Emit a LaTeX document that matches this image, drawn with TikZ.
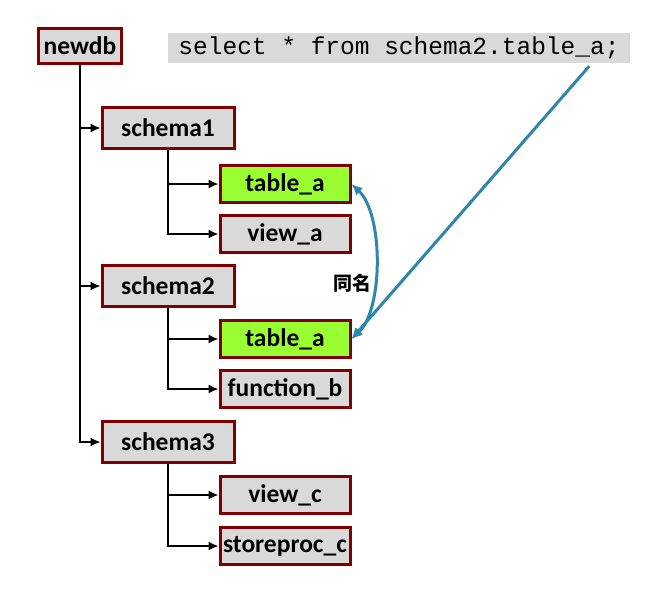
\documentclass[tikz,border=0pt]{standalone}
\usepackage{fontspec}
\setmainfont{Carlito}
\newfontfamily\codefont{Liberation Mono}
\newfontfamily\cjk{Noto Sans CJK SC}
\usepackage{xcolor}
\usepackage{tikz}
\usetikzlibrary{positioning,arrows.meta}
\definecolor{boxred}{HTML}{7F0000}
\definecolor{boxgray}{HTML}{D9D9D9}
\definecolor{leafgreen}{HTML}{99FF33}
\definecolor{linkblue}{HTML}{2E86AB}

\begin{document}
\begin{tikzpicture}[x=1pt, y=-1pt,
    box/.style={draw=boxred, line width=3pt, fill=boxgray, inner sep=0pt,
        font=\fontsize{25.5}{30}\selectfont\bfseries},
    dbbox/.style={box, minimum width=83pt, minimum height=35pt},
    schemabox/.style={box, minimum width=132pt, minimum height=41pt},
    leafbox/.style={box, minimum width=130pt, minimum height=37pt},
    hitbox/.style={leafbox, fill=leafgreen},
    conn/.style={-{Latex[length=10pt,width=9pt]}, line width=1.6pt},
    link/.style={draw=linkblue, line width=3pt}]
    \useasboundingbox (0,0) rectangle (656,602);

    \node[dbbox] (newdb) at (80,46) {newdb};
    \node[fill=boxgray, minimum width=462pt, minimum height=30pt, inner sep=0pt,
        font=\codefont\fontsize{24.5}{26}\selectfont] (sql) at (399,48)
        {select * from schema2.table\_a;};

    \node[schemabox] (s1) at (168,128) {schema1};
    \node[hitbox] (ta1) at (285,184) {table\_a};
    \node[leafbox] (va) at (285,234) {view\_a};

    \node[schemabox] (s2) at (168,286) {schema2};
    \node[hitbox] (ta2) at (285,339) {table\_a};
    \node[leafbox] (fb) at (285,389) {function\_b};

    \node[schemabox] (s3) at (168,442) {schema3};
    \node[leafbox] (vc) at (285,495) {view\_c};
    \node[leafbox] (sc) at (285,546) {storeproc\_c};

    \draw[conn] (newdb.south) |- (s1.west);
    \draw[conn] (newdb.south) |- (s2.west);
    \draw[conn] (newdb.south) |- (s3.west);
    \draw[conn] (s1.south) |- (ta1.west);
    \draw[conn] (s1.south) |- (va.west);
    \draw[conn] (s2.south) |- (ta2.west);
    \draw[conn] (s2.south) |- (fb.west);
    \draw[conn] (s3.south) |- (vc.west);
    \draw[conn] (s3.south) |- (sc.west);

    \node[font=\cjk\fontsize{19}{20}\selectfont\bfseries] (same) at (352,283) {同名};
    \coordinate (src) at ([xshift=-41pt,yshift=-3pt]sql.south east);
    \draw[link, {Latex[length=11pt,width=10pt]}-{Latex[length=11pt,width=10pt]}]
        (ta1.east) .. controls +(32,30) and +(32,-30) .. (ta2.east);
    \draw[link, -{Latex[length=11pt,width=10pt]}] (src) -- (ta2.east);
\end{tikzpicture}
\end{document}
